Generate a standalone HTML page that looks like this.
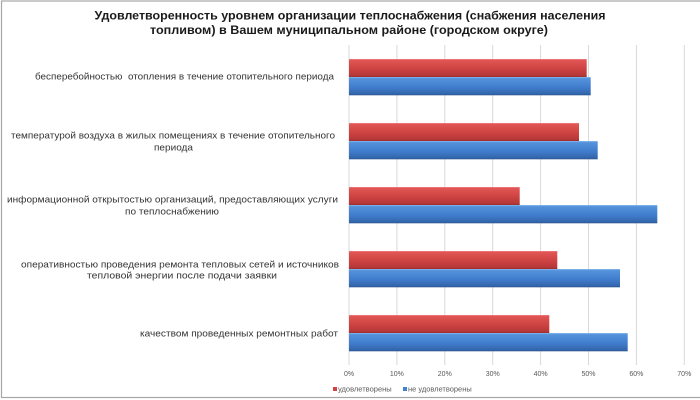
<!DOCTYPE html>
<html><head><meta charset="utf-8"><style>
html,body{margin:0;padding:0;background:#fff;}
svg{display:block;}
text{font-family:"Liberation Sans","DejaVu Sans",sans-serif;}
</style></head><body>
<svg width="700" height="400" viewBox="0 0 700 400" xmlns="http://www.w3.org/2000/svg">
<defs>
<linearGradient id="gr" x1="0" y1="0" x2="0" y2="1">
<stop offset="0" stop-color="#ef8080"/>
<stop offset="0.08" stop-color="#e05454"/>
<stop offset="0.5" stop-color="#d04444"/>
<stop offset="0.9" stop-color="#b83838"/>
<stop offset="1" stop-color="#992e2e"/>
</linearGradient>
<linearGradient id="gb" x1="0" y1="0" x2="0" y2="1">
<stop offset="0" stop-color="#8cbcf0"/>
<stop offset="0.08" stop-color="#5592dc"/>
<stop offset="0.5" stop-color="#4280d0"/>
<stop offset="0.9" stop-color="#3468b0"/>
<stop offset="1" stop-color="#2a5690"/>
</linearGradient>
</defs>
<rect x="0" y="0" width="700" height="400" fill="#fff"/>
<rect x="1.5" y="1" width="700" height="396.5" fill="none" stroke="#a6a6a6" stroke-width="1.2"/>

<!-- title -->
<text x="350" y="19.5" font-size="12" font-weight="bold" fill="#1a1a1a" text-anchor="middle" textLength="511" lengthAdjust="spacingAndGlyphs">Удовлетворенность уровнем организации теплоснабжения (снабжения населения</text>
<text x="349" y="34" font-size="12" font-weight="bold" fill="#1a1a1a" text-anchor="middle" textLength="398" lengthAdjust="spacingAndGlyphs">топливом) в Вашем муниципальном районе (городском округе)</text>

<!-- gridlines -->
<g stroke="#d9d9d9" stroke-width="1">
<line x1="349" y1="45" x2="349" y2="365"/>
<line x1="396.9" y1="45" x2="396.9" y2="365"/>
<line x1="444.8" y1="45" x2="444.8" y2="365"/>
<line x1="492.7" y1="45" x2="492.7" y2="365"/>
<line x1="540.6" y1="45" x2="540.6" y2="365"/>
<line x1="588.5" y1="45" x2="588.5" y2="365"/>
<line x1="636.4" y1="45" x2="636.4" y2="365"/>
<line x1="684.3" y1="45" x2="684.3" y2="365"/>
</g>

<!-- bars -->
<g>
<rect x="349" y="59" width="237.7" height="18" fill="url(#gr)"/>
<rect x="349" y="77" width="241.7" height="18.3" fill="url(#gb)"/>
<rect x="349" y="123" width="230" height="18" fill="url(#gr)"/>
<rect x="349" y="141" width="248.7" height="18.3" fill="url(#gb)"/>
<rect x="349" y="187" width="170.7" height="18" fill="url(#gr)"/>
<rect x="349" y="205" width="308.3" height="18.3" fill="url(#gb)"/>
<rect x="349" y="251" width="208.3" height="18" fill="url(#gr)"/>
<rect x="349" y="269" width="271" height="18.3" fill="url(#gb)"/>
<rect x="349" y="315" width="200.3" height="18" fill="url(#gr)"/>
<rect x="349" y="333" width="278.7" height="18.3" fill="url(#gb)"/>
</g>

<!-- category labels -->
<g font-size="9.5" fill="#333">
<text x="35" y="79.5" textLength="299" lengthAdjust="spacingAndGlyphs" xml:space="preserve">бесперебойностью  отопления в течение отопительного периода</text>
<text x="11" y="138.5" textLength="324" lengthAdjust="spacingAndGlyphs">температурой воздуха в жилых помещениях в течение отопительного</text>
<text x="154" y="150.5" textLength="39" lengthAdjust="spacingAndGlyphs">периода</text>
<text x="7" y="202.5" textLength="331" lengthAdjust="spacingAndGlyphs">информационной открытостью организаций, предоставляющих услуги</text>
<text x="125" y="214.5" textLength="94" lengthAdjust="spacingAndGlyphs">по теплоснабжению</text>
<text x="21" y="267.5" textLength="318" lengthAdjust="spacingAndGlyphs">оперативностью проведения ремонта тепловых сетей и источников</text>
<text x="87" y="278.5" textLength="190" lengthAdjust="spacingAndGlyphs">тепловой энергии после подачи заявки</text>
<text x="140" y="336.5" textLength="198" lengthAdjust="spacingAndGlyphs">качеством проведенных ремонтных работ</text>
</g>

<!-- tick labels -->
<g font-size="7" fill="#595959" text-anchor="middle">
<text x="349" y="376">0%</text>
<text x="396.9" y="376">10%</text>
<text x="444.8" y="376">20%</text>
<text x="492.7" y="376">30%</text>
<text x="540.6" y="376">40%</text>
<text x="588.5" y="376">50%</text>
<text x="636.4" y="376">60%</text>
<text x="684.3" y="376">70%</text>
</g>

<!-- legend -->
<rect x="333" y="387" width="4" height="4" fill="#d04444"/>
<text x="338" y="391.5" font-size="7" fill="#595959" textLength="53.7" lengthAdjust="spacingAndGlyphs">удовлетворены</text>
<rect x="403" y="387" width="4" height="4" fill="#4280d0"/>
<text x="408" y="391.5" font-size="7" fill="#595959" textLength="63.7" lengthAdjust="spacingAndGlyphs">не удовлетворены</text>
</svg>
</body></html>
